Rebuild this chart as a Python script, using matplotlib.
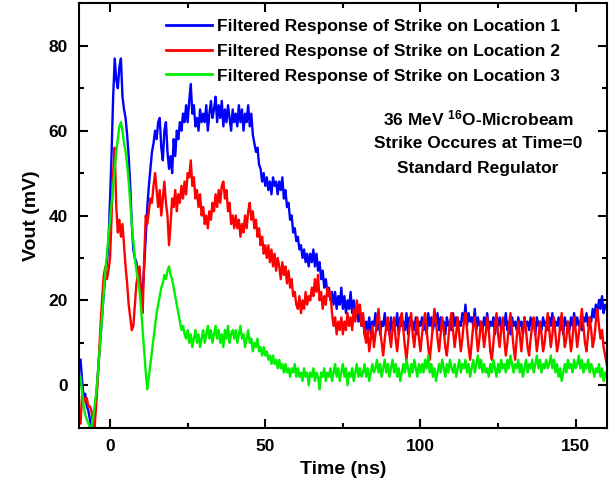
import numpy as np
import matplotlib
matplotlib.use("Agg")
import matplotlib.pyplot as plt

plt.rcParams['font.family'] = ['Liberation Sans', 'DejaVu Sans']
plt.rcParams['font.weight'] = 'bold'
plt.rcParams['mathtext.fontset'] = 'custom'
plt.rcParams['mathtext.rm'] = 'Liberation Sans:bold'
plt.rcParams['mathtext.bf'] = 'Liberation Sans:bold'
plt.rcParams['mathtext.it'] = 'Liberation Sans:bold'

# sampling grid of the traces (ns)
t_start, t_step, n_pts = -9.5, 0.5, 340
time_ns = t_start + t_step * np.arange(n_pts)

loc1 = [  # blue
    6, 1, -3, -2, -5, -6, -8, -10, -10, -8, -3, 2, 7, 12, 17, 22, 26, 29, 34, 44,
    55, 68, 77, 72, 70, 75, 77, 68, 65, 63, 59, 54, 47, 38, 32, 30, 29, 26, 25, 23,
    22, 28, 35, 42, 47, 51, 55, 57, 60, 58, 62, 63, 56, 53, 60, 62, 55, 51, 54, 50,
    58, 54, 60, 58, 62, 60, 64, 62, 66, 62, 67, 71, 64, 66, 61, 63, 60, 65, 62, 64,
    62, 66, 60, 64, 67, 63, 65, 68, 62, 66, 63, 67, 61, 65, 62, 66, 63, 60, 65, 62,
    64, 61, 66, 62, 65, 60, 64, 62, 66, 61, 64, 59, 57, 55, 56, 52, 51, 48, 50, 47,
    49, 46, 48, 45, 49, 47, 48, 45, 48, 46, 49, 44, 46, 42, 43, 39, 40, 36, 37, 34,
    35, 32, 33, 30, 32, 29, 31, 28, 31, 29, 32, 28, 31, 27, 29, 25, 27, 23, 25, 22,
    23, 20, 22, 19, 22, 18, 21, 19, 23, 18, 21, 17, 20, 18, 22, 17, 20, 16, 18, 15,
    17, 14, 16, 12, 15, 13, 16, 12, 15, 14, 17, 13, 16, 12, 15, 14, 17, 13, 15, 12,
    16, 13, 15, 14, 17, 12, 16, 14, 15, 13, 17, 12, 16, 14, 15, 13, 16, 12, 15, 14,
    16, 13, 15, 12, 17, 14, 16, 13, 15, 14, 17, 13, 16, 14, 15, 12, 16, 14, 15, 13,
    17, 14, 16, 13, 15, 14, 17, 15, 19, 14, 17, 15, 16, 14, 18, 13, 16, 14, 15, 13,
    16, 14, 17, 13, 15, 14, 16, 12, 15, 14, 16, 13, 15, 14, 17, 13, 15, 12, 16, 14,
    15, 13, 16, 14, 15, 12, 16, 14, 15, 13, 16, 14, 15, 12, 16, 14, 15, 13, 16, 14,
    15, 13, 16, 14, 17, 13, 15, 14, 16, 13, 15, 12, 16, 14, 15, 13, 16, 14, 17, 14,
    16, 14, 15, 13, 16, 15, 17, 14, 16, 15, 18, 16, 19, 17, 20, 18, 21, 17, 19, 18,
]

loc2 = [  # red
    -9, -2, -3, -4, -3, -5, -5, -6, -9, -10, -5, 1, 8, 15, 21, 26, 28, 25, 27, 30,
    40, 50, 56, 42, 36, 39, 35, 38, 33, 28, 24, 19, 16, 13, 14, 19, 24, 26, 28, 21,
    17, 30, 40, 38, 41, 44, 43, 47, 50, 46, 42, 46, 40, 44, 48, 43, 40, 33, 38, 44,
    42, 46, 41, 45, 43, 47, 44, 48, 45, 50, 49, 53, 47, 49, 44, 46, 42, 45, 40, 42,
    38, 40, 37, 41, 39, 43, 41, 45, 42, 46, 43, 47, 48, 44, 46, 41, 43, 38, 40, 37,
    40, 37, 39, 35, 38, 36, 40, 37, 41, 43, 39, 41, 37, 39, 35, 37, 33, 35, 31, 33,
    30, 33, 29, 32, 28, 31, 27, 30, 28, 25, 29, 26, 28, 24, 27, 23, 25, 21, 22, 19,
    18, 21, 17, 20, 18, 22, 19, 21, 20, 23, 21, 25, 22, 26, 20, 22, 18, 21, 19, 23,
    21, 22, 17, 14, 16, 12, 15, 13, 16, 12, 15, 13, 17, 14, 16, 13, 18, 15, 20, 17,
    19, 14, 17, 12, 10, 13, 8, 11, 14, 9, 12, 15, 18, 13, 10, 7, 11, 14, 16, 12,
    9, 13, 16, 11, 8, 12, 15, 17, 13, 9, 6, 10, 14, 17, 12, 9, 13, 16, 11, 8,
    12, 15, 17, 13, 9, 6, 10, 14, 18, 15, 11, 8, 12, 16, 13, 9, 7, 11, 15, 17,
    13, 9, 12, 16, 12, 8, 11, 15, 17, 13, 9, 6, 10, 14, 16, 12, 8, 11, 15, 13,
    9, 12, 16, 13, 8, 6, 10, 14, 17, 12, 9, 13, 16, 11, 7, 10, 14, 17, 13, 9,
    6, 11, 15, 12, 8, 12, 16, 13, 9, 7, 11, 14, 16, 12, 8, 11, 15, 12, 8, 10,
    14, 17, 13, 9, 12, 16, 12, 8, 10, 14, 17, 13, 9, 11, 15, 12, 8, 11, 16, 13,
    9, 12, 15, 18, 14, 10, 8, 12, 16, 13, 9, 11, 15, 18, 14, 11, 13, 9, 7, 5,
]

loc3 = [  # green
    2, -2, -5, -7, -8, -9, -10, -10, -8, -5, -2, 2, 7, 12, 17, 22, 27, 31, 35, 39,
    43, 47, 51, 55, 58, 61, 62, 60, 57, 55, 52, 48, 43, 38, 34, 30, 27, 25, 22, 18,
    13, 8, 3, -1, 2, 5, 8, 11, 14, 17, 19, 21, 23, 24, 26, 25, 27, 28, 26, 25,
    23, 21, 19, 17, 15, 13, 14, 12, 11, 13, 10, 12, 9, 11, 13, 10, 12, 9, 11, 13,
    10, 12, 14, 11, 13, 10, 12, 14, 11, 13, 10, 12, 9, 13, 11, 14, 10, 12, 13, 11,
    13, 10, 12, 14, 11, 12, 9, 11, 13, 10, 11, 8, 10, 9, 11, 8, 9, 7, 9, 7,
    8, 6, 7, 5, 7, 5, 6, 4, 6, 4, 5, 3, 5, 3, 4, 2, 4, 3, 5, 2,
    4, 2, 3, 1, 4, 2, 3, 0, 3, 2, 4, 1, 3, 2, -1, 3, 2, 4, 1, 3,
    2, 4, 1, 3, 5, 2, 4, 1, 3, 5, 2, 4, 0, 3, 2, 4, 1, 3, 5, 2,
    4, 2, 3, 5, 2, 4, 1, 3, 5, 3, 4, 6, 3, 5, 2, 4, 6, 3, 5, 2,
    4, 6, 3, 5, 2, 4, 1, 3, 5, 3, 6, 4, 2, 5, 3, 6, 4, 2, 5, 3,
    5, 3, 6, 4, 7, 3, 5, 2, 4, 1, 3, 5, 3, 6, 4, 2, 5, 3, 6, 4,
    3, 5, 2, 4, 6, 3, 5, 4, 6, 3, 5, 2, 4, 6, 3, 5, 7, 4, 6, 3,
    5, 3, 4, 2, 5, 3, 6, 4, 2, 5, 3, 6, 4, 5, 3, 6, 4, 7, 5, 3,
    5, 4, 6, 3, 5, 2, 4, 6, 3, 5, 4, 6, 3, 5, 7, 4, 6, 3, 5, 4,
    6, 4, 5, 7, 4, 6, 3, 5, 2, 4, 1, 3, 5, 3, 6, 4, 5, 3, 6, 4,
    5, 7, 4, 6, 3, 5, 4, 6, 3, 5, 4, 2, 4, 3, 5, 2, 4, 1, 3, 2,
]

labels = ["Filtered Response of Strike on Location 1",
          "Filtered Response of Strike on Location 2",
          "Filtered Response of Strike on Location 3"]
colors = ["#0000ff", "#ff0000", "#00f000"]
x_ticks = [0, 50, 100, 150]
y_ticks = [0, 20, 40, 60, 80]
note_lines = ["36 MeV $^{16}$O-Microbeam", "Strike Occures at Time=0", "Standard Regulator"]

fig = plt.figure(figsize=(6.14, 4.82), dpi=100)
ax = fig.add_axes([0.1287, 0.1127, 0.8594, 0.8803])

for ys, c, lab in zip([loc1, loc2, loc3], colors, labels):
    ax.plot(time_ns, ys, color=c, lw=1.7, label=lab)

ax.set_xlim(-10, 160)
ax.set_ylim(-10, 90)
ax.set_xticks(x_ticks)
ax.set_yticks(y_ticks)
ax.set_xticks([25, 75, 125], minor=True)
ax.set_yticks([10, 30, 50, 70], minor=True)
ax.tick_params(which='both', direction='in', top=True, right=True, width=1.5)
ax.tick_params(which='major', length=6.5, pad=8, labelsize=12.5)
ax.tick_params(which='minor', length=3.5)
for s in ax.spines.values():
    s.set_linewidth(1.5)
for lbl in ax.get_xticklabels() + ax.get_yticklabels():
    lbl.set_fontweight('bold')

ax.set_xlabel("Time (ns)", fontsize=14, fontweight='bold', labelpad=5)
ax.set_ylabel("Vout (mV)", fontsize=14, fontweight='bold', labelpad=6)

leg = ax.legend(loc='upper left', bbox_to_anchor=(166 / 614, 1 - 19 / 482),
                bbox_transform=fig.transFigure, frameon=False, borderpad=0,
                borderaxespad=0, handlelength=2.65, handletextpad=0.3,
                labelspacing=0.55, prop={'size': 12.5, 'weight': 'bold'})
for h in leg.get_lines():
    h.set_linewidth(2)

for i, line in enumerate(note_lines):
    fig.text(478 / 614, 1 - (118 + 25 * i) / 482, line, ha='center', va='center',
             fontsize=12.5, fontweight='bold')

fig.savefig("out.png", dpi=100)
